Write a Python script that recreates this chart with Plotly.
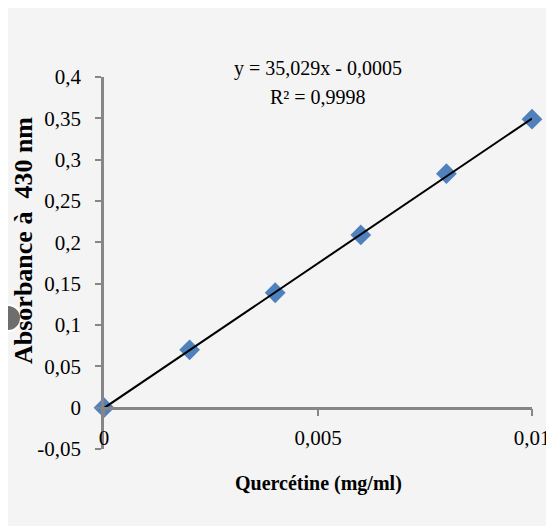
import plotly.graph_objects as go

# Data
concentration = [0.0, 0.002, 0.004, 0.006, 0.008, 0.010]
absorbance = [0.0, 0.070, 0.139, 0.209, 0.283, 0.349]
slope = 35.029
intercept = -0.0005
r2 = 0.9998

x_tickvals = [0, 0.005, 0.01]
x_ticktext = ["0", "0,005", "0,01"]
y_tickvals = [-0.05, 0, 0.05, 0.1, 0.15, 0.2, 0.25, 0.3, 0.35, 0.4]
y_ticktext = ["-0,05", "0", "0,05", "0,1", "0,15", "0,2", "0,25", "0,3", "0,35", "0,4"]

OX, OY = 8, 8          # page body margin
W, H = 562, 518
L, R, T, B = 96, 38, 69, 77
pw, ph = W - L - R, H - T - B

def px(xp):
    return (xp - OX - L) / pw

def py(yp):
    return (H - B - (yp - OY)) / ph

FONT = "Liberation Serif, Times New Roman, serif"
AXIS_COLOR = "#868686"
BG = "#f4f4f4"

fit_x = [concentration[0], concentration[-1]]
fit_y = [slope * v + intercept for v in fit_x]

fig = go.Figure()
fig.add_trace(go.Scatter(
    x=concentration, y=absorbance, mode="markers",
    marker=dict(symbol="diamond", size=16, color="#4F81BD"),
    cliponaxis=False, showlegend=False,
))
fig.add_trace(go.Scatter(
    x=fit_x, y=fit_y, mode="lines",
    line=dict(color="black", width=2),
    cliponaxis=False, showlegend=False,
))

eq_text = "y = {}x - {}".format(str(slope).replace(".", ","), str(abs(intercept)).replace(".", ","))
r2_text = "R² = {}".format(str(r2).replace(".", ","))

fig.update_layout(
    width=W, height=H,
    margin=dict(l=L, r=R, t=T, b=B),
    paper_bgcolor=BG,
    plot_bgcolor=BG,
    font=dict(family=FONT, size=21, color="black"),
    xaxis=dict(
        range=[0, 0.01], anchor="free", position=0.05 / 0.45,
        tickvals=x_tickvals, ticktext=x_ticktext,
        showline=True, linecolor=AXIS_COLOR, linewidth=2.5,
        ticks="outside", ticklen=7, tickwidth=2, tickcolor=AXIS_COLOR,
        ticklabelstandoff=3,
        showgrid=False, zeroline=False,
        tickfont=dict(family=FONT, size=21, color="black"),
    ),
    yaxis=dict(
        range=[-0.05, 0.4],
        tickvals=y_tickvals, ticktext=y_ticktext,
        showline=True, linecolor=AXIS_COLOR, linewidth=2.5,
        ticks="outside", ticklen=6, tickwidth=2, tickcolor=AXIS_COLOR,
        ticklabelstandoff=10,
        showgrid=False, zeroline=False,
        tickfont=dict(family=FONT, size=21, color="black"),
    ),
    shapes=[
        dict(type="circle", xref="paper", yref="paper",
             x0=px(-5), x1=px(21), y0=py(331), y1=py(305),
             fillcolor="#6e6e6e", line=dict(color="white", width=2), layer="above"),
    ],
    annotations=[
        dict(text=eq_text, xref="paper", yref="paper", x=px(318), y=py(68),
             showarrow=False, xanchor="center", yanchor="middle",
             font=dict(family=FONT, size=20, color="black")),
        dict(text=r2_text, xref="paper", yref="paper", x=px(318), y=py(97),
             showarrow=False, xanchor="center", yanchor="middle",
             font=dict(family=FONT, size=20, color="black")),
        dict(text="<b>Quercétine (mg/ml)</b>", xref="paper", yref="paper",
             x=px(318), y=py(484), showarrow=False, xanchor="center", yanchor="middle",
             font=dict(family=FONT, size=20, color="black")),
        dict(text="<b>Absorbance à\u00a0 430 nm</b>", xref="paper", yref="paper",
             x=px(23), y=py(241), showarrow=False, xanchor="center", yanchor="middle",
             textangle=-90,
             font=dict(family=FONT, size=26, color="black")),
    ],
)

fig.write_html(
    "out.html",
    post_script="document.documentElement.style.overflow='hidden';document.body.style.overflow='hidden';",
)
